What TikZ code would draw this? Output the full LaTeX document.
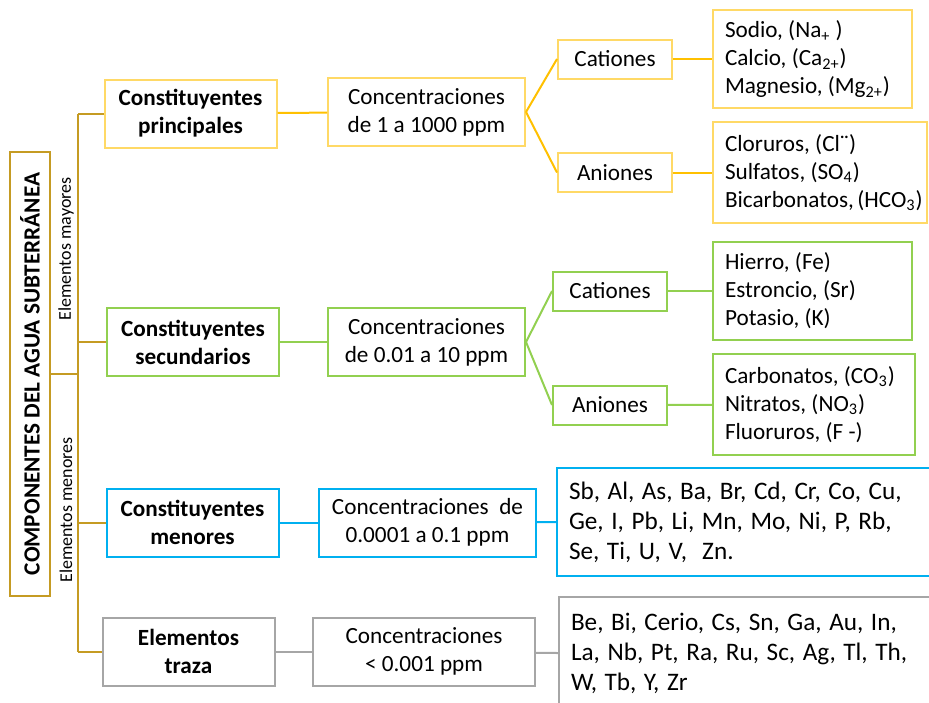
\documentclass[tikz,border=0pt]{standalone}
\usepackage{fontspec}
\setmainfont{Carlito}
\usepackage{tikz}
\definecolor{trunkc}{RGB}{197,155,35}
\definecolor{yelbox}{RGB}{255,217,102}
\definecolor{yelline}{RGB}{255,192,0}
\definecolor{grn}{RGB}{146,208,80}
\definecolor{blu}{RGB}{0,176,240}
\definecolor{gry}{RGB}{166,166,166}
\newcommand{\boxfont}{\fontsize{11.6}{14}\selectfont}
\tikzset{rootbox/.style = {draw = trunkc, line width = 1.2pt, rotate = 90, font = \boxfont\bfseries, minimum width = 222pt, minimum height = 20pt, inner sep = 0}}
\tikzset{headbox/.style = {draw = #1, line width = 1pt, font = \boxfont\bfseries, align = center, minimum width = 86pt, minimum height = 34pt, inner sep = 0}}
\tikzset{concbox/.style = {draw = #1, line width = 1pt, align = center, minimum height = 34pt, inner sep = 0}}
\tikzset{ionbox/.style = {draw = #1, line width = 1pt, minimum width = 57pt, minimum height = 19.5pt, inner sep = 0}}
\tikzset{listbox/.style = {draw = #1, line width = 1pt, align = left, inner xsep = 6pt, inner ysep = 0, execute at begin node = {\spaceskip=0pt \xspaceskip=0pt}}}
\tikzset{elembox/.style = {listbox = #1, font = \fontsize{12.6}{15}\selectfont, execute at begin node = {\spaceskip=0.3em \xspaceskip=0.3em}}}
\tikzset{link/.style = {draw = #1, line width = 1pt}}
\tikzset{side/.style = {rotate = 90, font = \fontsize{9}{11}\selectfont}}

\begin{document}
\begin{tikzpicture}[x = 0.5pt, y = -0.5pt, font = \boxfont]
    \clip (0, 0) rectangle (929, 702);

    \node [rootbox] (root) at (30, 374) {COMPONENTES DEL AGUA SUBTERRÁNEA};
    \node [side] (lblmay) at (66, 249) {Elementos mayores};
    \node [side] (lblmen) at (66, 510) {Elementos menores};

    \node [headbox = yelbox] (p1) at (190.5, 113.5) {Constituyentes\\principales};
    \node [headbox = grn] (s1) at (193, 342) {Constituyentes\\secundarios};
    \node [headbox = blu] (m1) at (192.5, 522.5) {Constituyentes\\menores};
    \node [headbox = gry] (t1) at (188.5, 651.5) {Elementos\\traza};

    \node [concbox = yelbox, minimum width = 98.5pt] (c1) at (426.5, 112) {Concentraciones\\de 1 a 1000 ppm};
    \node [concbox = grn, minimum width = 98.5pt] (c2) at (426.5, 342) {Concentraciones\\de 0.01 a 10 ppm};
    \node [concbox = blu, minimum width = 108.5pt] (c3) at (427.5, 522.5) {Concentraciones\ \ de\\0.0001 a 0.1 ppm};
    \node [concbox = gry, minimum width = 111pt] (c4) at (424, 651.5) {Concentraciones\\< 0.001 ppm};

    \node [ionbox = yelbox] (ca1) at (615, 59) {Cationes};
    \node [ionbox = yelbox] (an1) at (615, 172.5) {Aniones};
    \node [ionbox = grn] (ca2) at (610, 291) {Cationes};
    \node [ionbox = grn] (an2) at (610, 405) {Aniones};

    \node [listbox = yelbox, text width = 87.5pt, minimum height = 49pt] (l1) at (812.5, 59) {Sodio, (Na\textsubscript{+} )\\Calcio, (Ca\textsubscript{2+})\\Magnesio, (Mg\textsubscript{2+})};
    \node [listbox = yelbox, text width = 95pt, minimum height = 50.5pt] (l2) at (820, 172.5) {Cloruros, (Cl¨)\\Sulfatos, (SO\textsubscript{4})\\Bicarbonatos,~(HCO\textsubscript{3})};
    \node [listbox = grn, text width = 87.5pt, minimum height = 49pt] (l3) at (812.5, 291) {Hierro, (Fe)\\Estroncio, (Sr)\\Potasio, (K)};
    \node [listbox = grn, text width = 89pt, minimum height = 50.5pt] (l4) at (814, 404.5) {Carbonatos, (CO\textsubscript{3})\\Nitratos, (NO\textsubscript{3})\\Fluoruros, (F -)};
    \node [elembox = blu, text width = 177pt, minimum height = 54pt] (l5) at (746, 522) {Sb, Al, As, Ba, Br, Cd, Cr, Co, Cu,\\Ge, I, Pb, Li, Mn, Mo, Ni, P, Rb,\\Se, Ti, U, V,\ \ Zn.};
    \node [elembox = gry, text width = 176pt, minimum height = 56pt] (l6) at (747, 653) {Be, Bi, Cerio, Cs, Sn, Ga, Au, In,\\La, Nb, Pt, Ra, Ru, Sc, Ag, Tl, Th,\\W, Tb, Y, Zr};

    % tronco
    \coordinate (spine) at (78, 374);
    \draw [link = trunkc] (root.south) -- (spine);
    \draw [link = trunkc] (spine |- p1.west) -- (spine |- t1.west);
    \foreach \n in {p1, s1, m1, t1}
        \draw [link = trunkc] (spine |- \n.west) -- (\n.west);

    \draw [link = yelline] (p1) -- (c1);
    \draw [link = yelline] (c1.east) -- (ca1.west);
    \draw [link = yelline] (c1.east) -- (an1.west);
    \draw [link = yelline] (ca1) -- (l1);
    \draw [link = yelline] (an1) -- (l2);

    \draw [link = grn] (s1) -- (c2);
    \draw [link = grn] (c2.east) -- (ca2.west);
    \draw [link = grn] (c2.east) -- (an2.west);
    \draw [link = grn] (ca2) -- (l3);
    \draw [link = grn] (an2) -- (l4);

    \draw [link = blu] (m1) -- (c3);
    \draw [link = blu] (c3) -- (l5.west);
    \draw [link = gry] (t1) -- (c4);
    \draw [link = gry] (c4) -- (l6.west);
\end{tikzpicture}
\end{document}
